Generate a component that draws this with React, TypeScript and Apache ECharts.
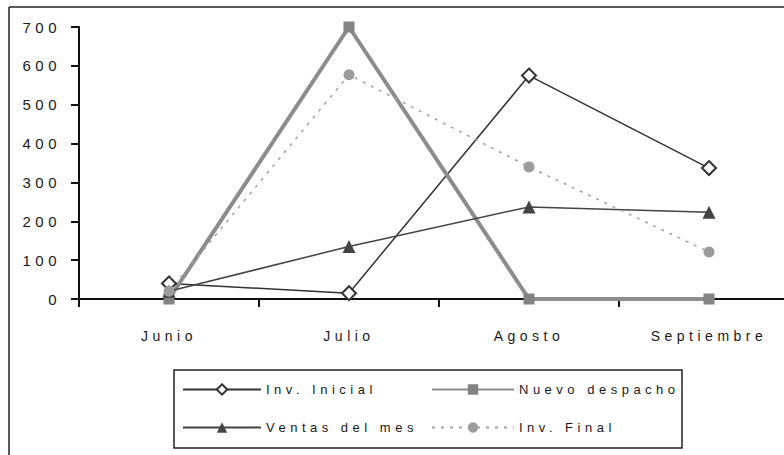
import React, { useEffect, useRef } from "react";
import * as echarts from "echarts";

const categories = ["Junio", "Julio", "Agosto", "Septiembre"];
const invInicial = [40, 15, 575, 337];
const nuevoDespacho = [0, 700, 0, 0];
const ventasMes = [20, 135, 237, 223];
const invFinal = [20, 577, 340, 121];
const yTicks = { min: 0, max: 700, interval: 100 };

const FONT = "'Liberation Sans', Arial, sans-serif";

export default function App() {
  const ref = useRef<HTMLDivElement>(null);

  useEffect(() => {
    if (!ref.current) return;
    const chart = echarts.init(ref.current, undefined, { renderer: "svg" });
    const legendCommon = {
      orient: "vertical",
      top: 383,
      itemHeight: 13,
      itemGap: 25,
      padding: 0,
      selectedMode: false,
      textStyle: { fontSize: 13, color: "#1a1a1a", fontFamily: FONT },
    };
    chart.setOption({
      animation: false,
      backgroundColor: "#ffffff",
      grid: {
        left: 79,
        top: 27,
        width: 720,
        height: 272,
        containLabel: false,
        outerBoundsMode: "none",
      },
      xAxis: {
        type: "category",
        data: categories,
        boundaryGap: true,
        axisLine: { lineStyle: { color: "#111", width: 2 } },
        axisTick: { show: true, length: 8, lineStyle: { color: "#111", width: 2 } },
        axisLabel: { fontSize: 14, color: "#1a1a1a", fontFamily: FONT, margin: 30 },
        splitLine: { show: false },
      },
      yAxis: {
        type: "value",
        min: yTicks.min,
        max: yTicks.max,
        interval: yTicks.interval,
        axisLine: { show: true, lineStyle: { color: "#111", width: 2 } },
        axisTick: { show: true, length: 8, lineStyle: { color: "#111", width: 2 } },
        axisLabel: { fontSize: 15, color: "#1a1a1a", fontFamily: FONT, margin: 18 },
        splitLine: { show: false },
      },
      legend: [
        {
          ...legendCommon,
          left: 182,
          itemWidth: 78,
          data: ["Inv. Inicial", "Ventas del mes"],
        },
        {
          ...legendCommon,
          left: 431,
          itemWidth: 82,
          data: ["Nuevo despacho", "Inv. Final"],
        },
      ],
      graphic: [
        {
          type: "line",
          shape: { x1: 9, y1: 7, x2: 784, y2: 7 },
          style: { stroke: "#222", lineWidth: 1.5 },
          silent: true,
        },
        {
          type: "line",
          shape: { x1: 9, y1: 7, x2: 9, y2: 455 },
          style: { stroke: "#222", lineWidth: 1.5 },
          silent: true,
        },
        {
          type: "rect",
          shape: { x: 174, y: 370, width: 508, height: 78 },
          style: { stroke: "#222", lineWidth: 1.5, fill: "none" },
          silent: true,
        },
      ],
      series: [
        {
          name: "Inv. Inicial",
          type: "line",
          data: invInicial,
          symbol: "emptyDiamond",
          symbolSize: 14,
          color: "#333",
          lineStyle: { color: "#333", width: 1.5 },
          itemStyle: { color: "#333", borderColor: "#333", borderWidth: 1.5 },
          clip: false,
        },
        {
          name: "Nuevo despacho",
          type: "line",
          data: nuevoDespacho,
          symbol: "rect",
          symbolSize: 11,
          color: "#838383",
          lineStyle: { color: "#8c8c8c", width: 4 },
          itemStyle: { color: "#838383" },
          clip: false,
        },
        {
          name: "Ventas del mes",
          type: "line",
          data: ventasMes,
          symbol: "triangle",
          symbolSize: 13,
          color: "#444",
          lineStyle: { color: "#444", width: 1.5 },
          itemStyle: { color: "#444" },
          clip: false,
        },
        {
          name: "Inv. Final",
          type: "line",
          data: invFinal,
          symbol: "circle",
          symbolSize: 11,
          color: "#9c9c9c",
          lineStyle: { color: "#a0a0a0", width: 1.5, type: [3, 6] },
          itemStyle: { color: "#9c9c9c" },
          clip: false,
        },
      ],
    });
    return () => chart.dispose();
  }, []);

  return (
    <div
      ref={ref}
      style={{
        position: "absolute",
        left: 0,
        top: 0,
        width: 784,
        height: 455,
        letterSpacing: "4.5px",
      }}
    />
  );
}
